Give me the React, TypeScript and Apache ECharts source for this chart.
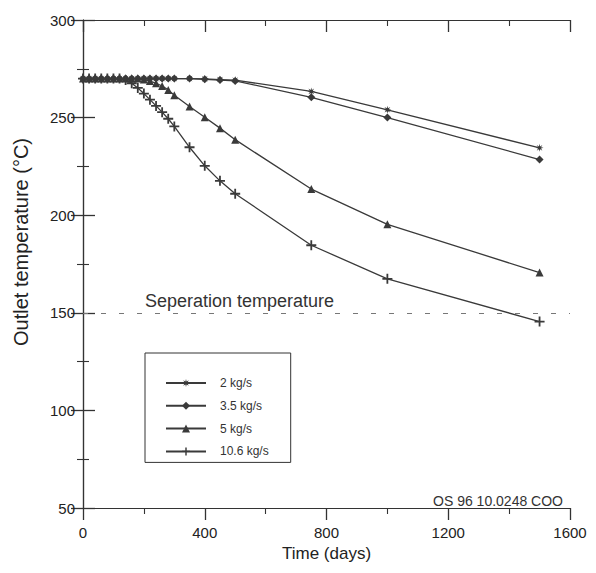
import React, { useEffect, useRef } from "react";
import * as echarts from "echarts";

const days = [0, 20, 40, 60, 80, 100, 120, 140, 160, 180, 200, 220, 240, 260, 280, 300, 350, 400, 450, 500, 750, 1000, 1500];

const temp2 = [270, 270, 270, 270, 270, 270, 270, 270, 270, 270, 270, 270, 270, 270, 270, 270, 270, 269.8, 269.5, 269.2, 263.4, 254, 234.5];
const temp35 = [270, 270, 270, 270, 270, 270, 270, 270, 270, 270, 270, 270, 270, 270, 270, 270, 270, 269.6, 269.2, 268.8, 260.4, 250, 228.5];
const temp5 = [270, 270, 270, 270, 270, 270, 270, 270, 270, 270, 269.5, 268.7, 267.6, 266.2, 264.2, 261.5, 255.7, 250.2, 244.6, 238.7, 213.4, 195.3, 170.6];
const temp106 = [270, 270, 270, 270, 270, 270, 270, 269.3, 267.6, 265.2, 262.3, 259.2, 256, 252.8, 249.4, 245.5, 234.8, 225.3, 217.6, 211, 184.6, 167.4, 145.5];

const seriesNames = ["2 kg/s", "3.5 kg/s", "5 kg/s", "10.6 kg/s"];
const separationTemp = 150;
const separationLabel = "Seperation temperature";
const codeLabel = "OS 96 10.0248 COO";
const xTitle = "Time (days)";
const yTitle = "Outlet temperature (°C)";

const ASTERISK =
  "path://M5,0L5.77,3.15L8.54,1.46L6.85,4.23L10,5L6.85,5.77L8.54,8.54L5.77,6.85L5,10L4.23,6.85L1.46,8.54L3.15,5.77L0,5L3.15,4.23L1.46,1.46L4.23,3.15Z";
const PLUS = "path://M4.1,0H5.9V4.1H10V5.9H5.9V10H4.1V5.9H0V4.1H4.1Z";

const FONT = "Liberation Sans, Arial, sans-serif";
const INK = "#333";

export default function App() {
  const ref = useRef<HTMLDivElement>(null);

  useEffect(() => {
    if (!ref.current) return;
    const chart = echarts.init(ref.current, null, { renderer: "svg" });

    const toPairs = (vals: number[]) => days.map((d, i) => [d, vals[i]]);
    const lineColor = "#3a3a3a";
    const mk = (name: string, vals: number[], symbol: string, size: number, extra: any = {}) => ({
      name,
      type: "line",
      data: toPairs(vals),
      symbol,
      symbolSize: size,
      showAllSymbol: true,
      lineStyle: { color: lineColor, width: 1.3 },
      itemStyle: { color: lineColor, borderWidth: 0 },
      z: 3,
      ...extra,
    });

    const axisCommon = (inside: boolean) => ({
      axisLine: { show: true, lineStyle: { color: INK, width: 1.2 } },
      axisTick: { show: true, inside, length: 12, interval: 0, lineStyle: { color: INK, width: 1.3 } },
      minorTick: { show: true, splitNumber: 2, length: 6, lineStyle: { color: INK, width: 1.1 } },
      splitLine: { show: false },
    });

    chart.setOption({
      animation: false,
      textStyle: { fontFamily: FONT },
      grid: { left: 83, right: 26, top: 20, bottom: 65 },
      legend: {
        orient: "vertical",
        left: 145,
        top: 353,
        itemWidth: 40,
        itemHeight: 10,
        itemGap: 10.8,
        padding: [24, 22, 5, 20],
        borderColor: INK,
        borderWidth: 1,
        textStyle: { fontSize: 12, color: INK, fontFamily: FONT, padding: [0, 0, 0, 9] },
        data: seriesNames,
      },
      xAxis: [
        {
          type: "value",
          position: "bottom",
          min: 0,
          max: 1600,
          interval: 400,
          ...axisCommon(false),
          axisLabel: { fontSize: 15, color: "#222", margin: 17, fontFamily: FONT, formatter: (v: number) => String(v) },
          name: xTitle,
          nameLocation: "middle",
          nameGap: 36,
          nameTextStyle: { fontSize: 17, color: "#222", fontFamily: FONT },
        },
        {
          type: "value",
          position: "top",
          min: 0,
          max: 1600,
          interval: 400,
          ...axisCommon(true),
          axisLabel: { show: false },
        },
      ],
      yAxis: [
        {
          type: "value",
          position: "left",
          min: 50,
          max: 300,
          interval: 50,
          ...axisCommon(true),
          axisLabel: { fontSize: 15, color: "#222", margin: 8, fontFamily: FONT },
        },
        {
          type: "value",
          position: "right",
          min: 50,
          max: 300,
          interval: 50,
          ...axisCommon(true),
          axisLabel: { show: false },
        },
      ],
      series: [
        mk(seriesNames[0], temp2, ASTERISK, 8),
        mk(seriesNames[1], temp35, "diamond", 8),
        mk(seriesNames[2], temp5, "triangle", 8),
        mk(seriesNames[3], temp106, PLUS, 10, {
          markLine: {
            silent: true,
            symbol: "none",
            label: { show: false },
            lineStyle: { color: "#777", type: [5, 13], width: 1.2 },
            data: [{ yAxis: separationTemp }],
          },
        }),
      ],
      graphic: [
        {
          type: "text",
          left: 145,
          top: 292,
          style: { text: separationLabel, fontSize: 18, fill: "#333", fontFamily: FONT },
        },
        {
          type: "text",
          right: 33,
          top: 494,
          style: { text: codeLabel, fontSize: 14, fill: "#333", fontFamily: FONT },
        },
        {
          type: "text",
          x: 21,
          y: 242,
          rotation: Math.PI / 2,
          style: {
            text: yTitle,
            fontSize: 20,
            fill: "#222",
            fontFamily: FONT,
            align: "center",
            verticalAlign: "middle",
          },
        },
      ],
    });

    return () => chart.dispose();
  }, []);

  return (
    <div
      ref={ref}
      style={{ position: "fixed", left: 0, top: 0, width: 596, height: 573, background: "#fff" }}
    />
  );
}
